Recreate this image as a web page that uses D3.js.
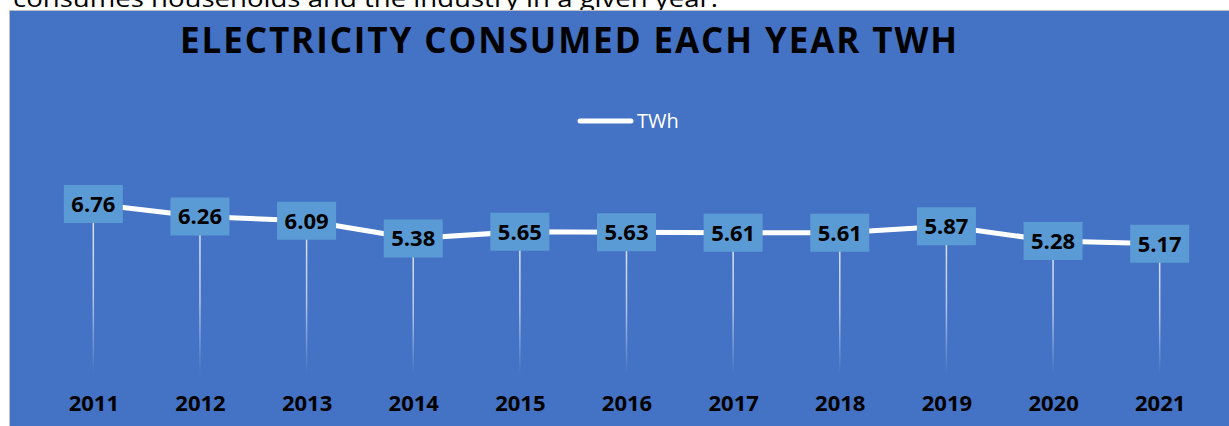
<!DOCTYPE html>
<html>
<head>
<meta charset="utf-8">
<script src="https://cdn.jsdelivr.net/npm/d3@7"></script>
<style>
  html, body { margin: 0; padding: 0; background: #fff; overflow: hidden; }
  svg { display: block; font-family: "Open Sans", sans-serif; }
</style>
</head>
<body>
<div class="chart"></div>
<script>
const years = ["2011","2012","2013","2014","2015","2016","2017","2018","2019","2020","2021"];
const twh = [6.76, 6.26, 6.09, 5.38, 5.65, 5.63, 5.61, 5.61, 5.87, 5.28, 5.17];
const seriesName = "TWh";
const chartTitle = "ELECTRICITY CONSUMED EACH YEAR TWH";
const pageText = "consumes households and the industry in a given year.";

const data = years.map((y, i) => ({year: y, value: twh[i]}));

const W = 1229, H = 426;

const svg = d3.select(".chart").append("svg")
    .attr("width", W)
    .attr("height", H);

// text of the document above the chart (cut off)
svg.append("text")
    .attr("x", 13)
    .attr("y", 7)
    .attr("font-size", 24)
    .attr("fill", "#000")
    .attr("textLength", 705)
    .attr("lengthAdjust", "spacingAndGlyphs")
    .text(pageText);

// chart area
svg.append("rect")
    .attr("x", 9.5)
    .attr("y", 10.5)
    .attr("width", W)
    .attr("height", H)
    .attr("fill", "#4472c4")
    .attr("stroke", "#bfbfbf")
    .attr("stroke-width", 1);

svg.append("text")
    .attr("x", 180)
    .attr("y", 53)
    .attr("font-size", 35)
    .attr("font-weight", 700)
    .attr("fill", "#000")
    .attr("textLength", 777)
    .attr("lengthAdjust", "spacing")
    .text(chartTitle);

// legend
const legend = svg.append("g");
legend.append("line")
    .attr("x1", 580).attr("x2", 631)
    .attr("y1", 121).attr("y2", 121)
    .attr("stroke", "#fff")
    .attr("stroke-width", 5)
    .attr("stroke-linecap", "round");
legend.append("text")
    .attr("x", 637)
    .attr("y", 128)
    .attr("font-size", 20)
    .attr("fill", "#fff")
    .text(seriesName);

const xScale = d3.scalePoint()
    .domain(years)
    .range([40, 1213])
    .padding(0.5);

const yScale = d3.scaleLinear()
    .domain([0, 8])
    .range([373, 173]);

// drop line gradient
const defs = svg.append("defs");
const grad = defs.append("linearGradient")
    .attr("id", "dropGrad")
    .attr("x1", 0).attr("x2", 0)
    .attr("y1", 0).attr("y2", 1);
grad.append("stop").attr("offset", "0%").attr("stop-color", "#fff").attr("stop-opacity", 0.85);
grad.append("stop").attr("offset", "55%").attr("stop-color", "#fff").attr("stop-opacity", 0.6);
grad.append("stop").attr("offset", "100%").attr("stop-color", "#fff").attr("stop-opacity", 0);

svg.append("g")
    .selectAll("rect")
    .data(data)
    .join("rect")
    .attr("x", d => xScale(d.year) - 0.75)
    .attr("y", d => yScale(d.value))
    .attr("width", 1.5)
    .attr("height", d => yScale(0) - yScale(d.value))
    .attr("fill", "url(#dropGrad)");

const line = d3.line()
    .x(d => xScale(d.year))
    .y(d => yScale(d.value));

svg.append("path")
    .datum(data)
    .attr("fill", "none")
    .attr("stroke", "#fff")
    .attr("stroke-width", 5)
    .attr("stroke-linejoin", "round")
    .attr("d", line);

// data labels
const labels = svg.append("g")
    .selectAll("g")
    .data(data)
    .join("g")
    .attr("transform", d => "translate(" + xScale(d.year) + "," + yScale(d.value) + ")");
labels.append("rect")
    .attr("x", -29.5)
    .attr("y", -19)
    .attr("width", 59)
    .attr("height", 38)
    .attr("fill", "#5b9bd5");
labels.append("text")
    .attr("text-anchor", "middle")
    .attr("dy", "0.36em")
    .attr("font-size", 22)
    .attr("font-weight", 700)
    .attr("fill", "#000")
    .text(d => d.value.toFixed(2));

// x axis labels
const xAxis = d3.axisBottom(xScale).tickSize(0).tickPadding(0);
svg.append("g")
    .attr("transform", "translate(0,395)")
    .call(xAxis)
    .call(g => g.select(".domain").remove())
    .selectAll("text")
    .attr("dy", "0.72em")
    .attr("font-family", "Open Sans, sans-serif")
    .attr("font-size", 22)
    .attr("font-weight", 700)
    .attr("fill", "#000");
</script>
</body>
</html>
